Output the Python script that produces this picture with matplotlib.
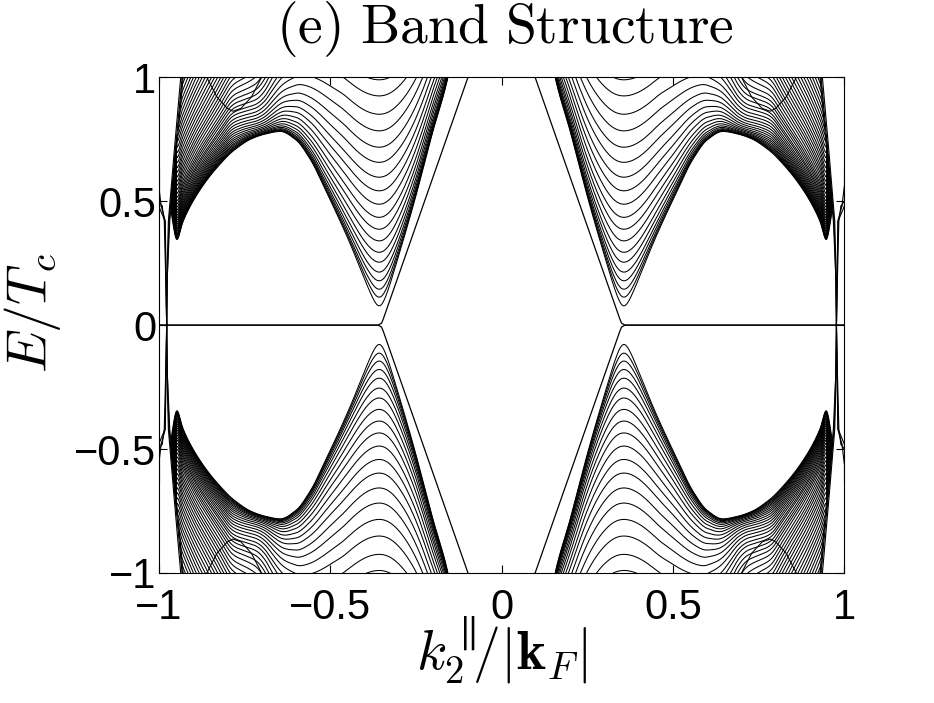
import numpy as np
import matplotlib.pyplot as plt

plt.rcParams['mathtext.fontset'] = 'cm'

# lower envelope of the bulk bands (|k|, E), sign flipped inside the node at 0.357
k_gap = [0.00, 0.10, 0.156, 0.20, 0.253, 0.30, 0.357, 0.40, 0.442, 0.50,
         0.56, 0.60, 0.646, 0.69, 0.73, 0.78, 0.83, 0.87, 0.91, 0.93,
         0.947, 0.96, 0.977, 1.00]
gap = [-2.0, -1.5, -1.0, -0.78, -0.50, -0.27, 0.0, 0.17, 0.32, 0.50,
       0.67, 0.745, 0.78, 0.77, 0.75, 0.70, 0.63, 0.56, 0.47, 0.41,
       0.34, 0.40, 0.55, 0.80]

# how fast the sub-bands fan out from that envelope
k_fan = [0.00, 0.357, 0.45, 0.50, 0.56, 0.646, 0.72, 0.80, 0.88, 0.947,
         0.96, 0.975, 1.00]
fan = [1.0, 1.0, 1.0, 0.97, 0.88, 0.66, 0.42, 0.26, 0.21, 0.19,
       0.6, 2.5, 8.0]

# how the sub-bands combine with the envelope (2 = quadrature, 1 = stacked)
k_mix = [0.00, 0.68, 0.80, 1.00]
mix = [2.0, 2.0, 1.25, 1.25]

# band minima at |k| = 0.357 (visible ones) and the hidden ones above
band_min = [0.078, 0.113, 0.145, 0.179, 0.214, 0.254, 0.294, 0.340, 0.387,
            0.435, 0.488, 0.542, 0.597, 0.657, 0.718, 0.784, 0.851, 0.925,
            0.99, 1.07, 1.15, 1.23, 1.32, 1.42, 1.52, 1.62, 1.72, 1.83,
            1.94, 2.05, 2.17, 2.29, 2.41, 2.54, 2.67, 2.80, 2.93, 3.07,
            3.21, 3.35, 3.50, 3.65, 3.80, 3.95, 4.10, 4.26, 4.42, 4.58,
            4.75, 4.92, 5.09, 5.26, 5.44, 5.62, 5.80, 5.98]

# outer boundary of the bulk bands (E, |k|)
edge_bound_E = [0.0, 0.42, 0.70, 1.00]
edge_bound_k = [0.977, 0.970, 0.952, 0.932]

# surface (edge) state: flat at zero, then linear branch
edge_k = [-1.0, -0.36, -0.35, -0.345, -0.098]
edge_E = [0.0, 0.0, 0.008, 0.025, 1.0]

# extra small band near the top
top_k = [-0.86, -0.83, -0.80, -0.784, -0.76, -0.73, -0.70]
top_E = [1.0, 0.92, 0.875, 0.863, 0.875, 0.92, 1.0]

# crossing bundle at the outer edge (|k| ~ 0.977)
cross_E = [0.0, 0.20, 0.42, 0.70, 1.00]
cross_right = [[-0.977, -0.975, -0.970, -0.952, -0.932],
               [-0.977, -0.975, -0.968, -0.949, -0.929],
               [-0.977, -0.976, -0.972, -0.955, -0.936]]
cross_E2 = [0.0, 0.20, 0.42, 0.48]
cross_left = [[-0.977, -0.979, -0.982, -1.000],
              [-0.977, -0.979, -0.981, -0.993],
              [-0.977, -0.980, -0.984, -0.990]]
cross_tail_E = [[0.48, 0.63], [0.48, 0.56], [0.48, 0.50]]
cross_tail_k = [[-1.000, -1.000], [-0.993, -1.000], [-0.990, -1.000]]


def pchip(x, xp, fp):
    xp = np.asarray(xp, float)
    fp = np.asarray(fp, float)
    h = np.diff(xp)
    d = np.diff(fp) / h
    m = np.zeros_like(fp)
    for i in range(1, len(fp) - 1):
        if d[i - 1] * d[i] > 0:
            w1 = 2 * h[i] + h[i - 1]
            w2 = h[i] + 2 * h[i - 1]
            m[i] = (w1 + w2) / (w1 / d[i - 1] + w2 / d[i])
    m[0], m[-1] = d[0], d[-1]
    i = np.clip(np.searchsorted(xp, x) - 1, 0, len(h) - 1)
    t = (x - xp[i]) / h[i]
    return ((2 * t**3 - 3 * t**2 + 1) * fp[i] + (t**3 - 2 * t**2 + t) * h[i] * m[i]
            + (-2 * t**3 + 3 * t**2) * fp[i + 1] + (t**3 - t**2) * h[i] * m[i + 1])


fig = plt.figure(figsize=(9.34, 7.03), dpi=100)
ax = fig.add_axes([0.170, 0.185, 0.734, 0.705])

kk = np.linspace(0, 1, 3000)
D = np.abs(pchip(kk, k_gap, gap))
S = pchip(kk, k_fan, fan)
P = pchip(kk, k_mix, mix)
for m in band_min:
    E = (D**P + (m * S)**P) ** (1 / P)
    E = np.where(kk > np.interp(E, edge_bound_E, edge_bound_k), np.nan, E)
    for sk in (1, -1):
        for sE in (1, -1):
            ax.plot(sk * kk, sE * E, color='k', lw=0.75)

for sk in (1, -1):
    for sE in (1, -1):
        ax.plot(sk * np.array(edge_k), sE * np.array(edge_E), color='k', lw=0.9)
        ax.plot(sk * np.array(top_k), sE * np.array(top_E), color='k', lw=0.75)
        for line in cross_right:
            ax.plot(sk * np.array(line), sE * np.array(cross_E), color='k', lw=0.8)
        for line in cross_left:
            ax.plot(sk * np.array(line), sE * np.array(cross_E2), color='k', lw=0.8)
        for tk, tE in zip(cross_tail_k, cross_tail_E):
            ax.plot(sk * np.array(tk), sE * np.array(tE), color='k', lw=0.8)

ax.set_xlim(-1, 1)
ax.set_ylim(-1, 1)
ticks = [-1, -0.5, 0, 0.5, 1]
labels = ['\u22121', '\u22120.5', '0', '0.5', '1']
ax.set_xticks(ticks)
ax.set_yticks(ticks)
ax.set_xticklabels(labels, family='Liberation Sans', fontsize=30)
ax.set_yticklabels(labels, family='Liberation Sans', fontsize=30)
ax.tick_params(direction='in', top=True, right=True, length=6, width=0.8)
ax.tick_params(axis='x', pad=11)
ax.tick_params(axis='y', pad=2)
for sp in ax.spines.values():
    sp.set_linewidth(0.8)

fig.text(0.541, 1 - 29 / 703, r'$\mathrm{(e)\ Band\ Structure}$',
         fontsize=40, ha='center', va='center')
ax.set_xlabel(r'$k_2^{\parallel}\!\!/|\mathbf{k}_F|$', fontsize=40, va='center')
ax.xaxis.set_label_coords(0.5, -0.156)
ax.set_ylabel(r'$E/T_c$', fontsize=40, va='center')
ax.yaxis.set_label_coords(-0.184, 0.524)

fig.savefig('out.png', dpi=100)
